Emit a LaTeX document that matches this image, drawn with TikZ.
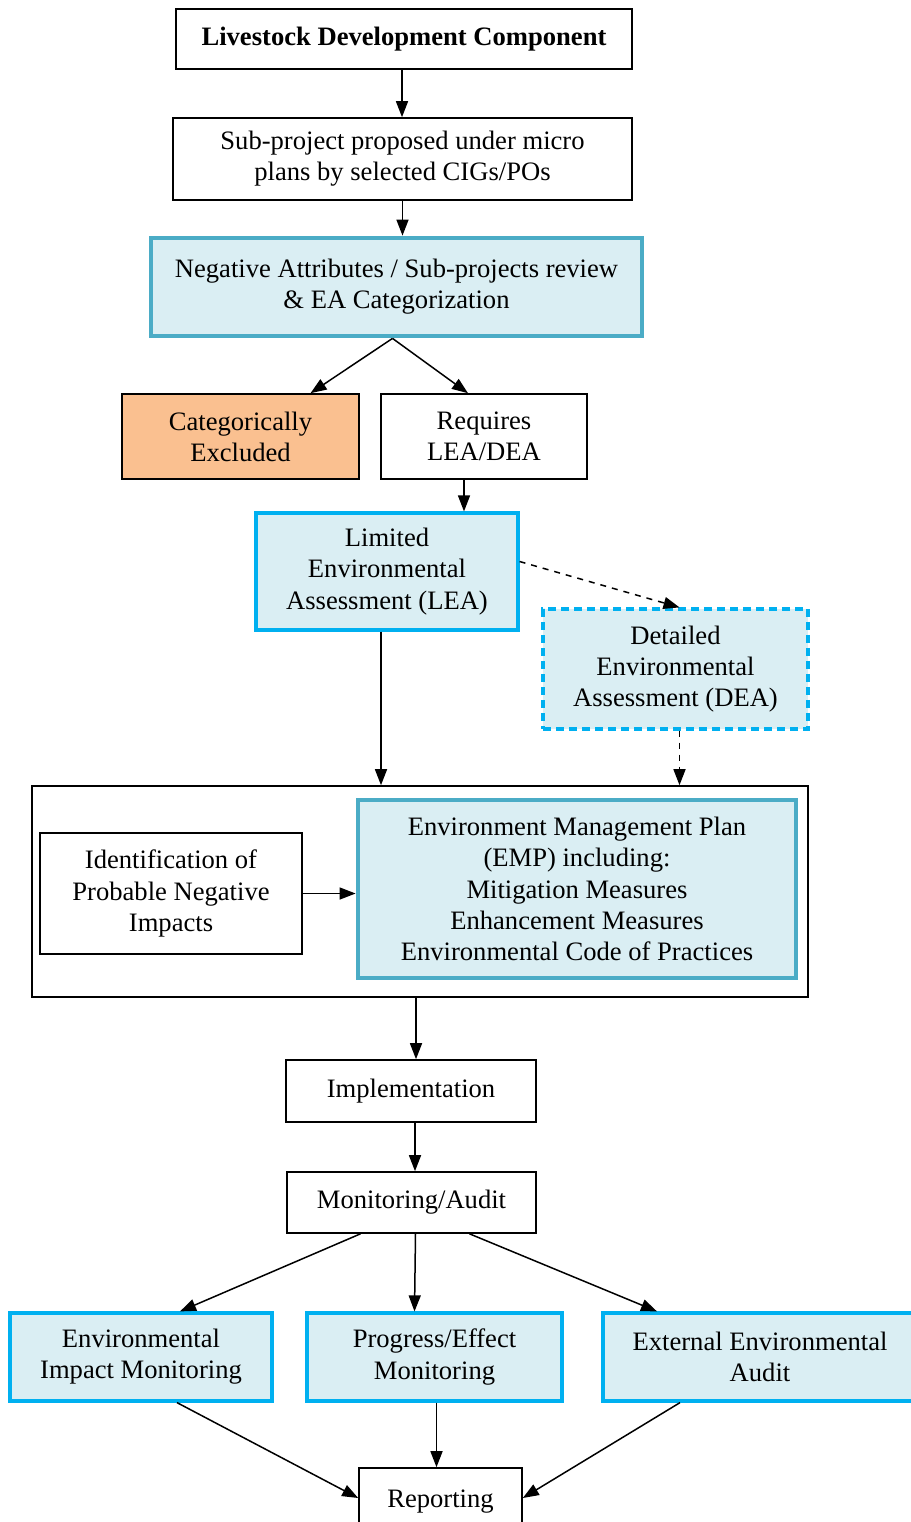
\documentclass[tikz,border=0pt]{standalone}
\usepackage{fontspec}
\setmainfont{Liberation Serif}
\usetikzlibrary{arrows.meta,positioning,calc}
\definecolor{paleblue}{RGB}{218,238,243}
\definecolor{tealline}{RGB}{75,172,198}
\definecolor{cyanline}{RGB}{0,176,240}
\definecolor{peach}{RGB}{250,192,144}
\begin{document}
\begin{tikzpicture}[x=0.5pt, y=-0.5pt,
  box/.style={draw, line width=0.8pt, align=center, font=\fontsize{13.3}{15.6}\selectfont, inner sep=3pt},
  tealbox/.style={box, fill=paleblue, draw=tealline, line width=2.4pt},
  cyanbox/.style={box, fill=paleblue, draw=cyanline, line width=1.6pt},
  arr/.style={-{Triangle[length=8pt,width=6pt]}, line width=0.75pt}
]
\useasboundingbox (0,0) rectangle (911,1522);
% top of the flow
\node[box, minimum width=228pt, minimum height=30pt, font=\fontsize{13.3}{15.6}\selectfont\bfseries] (title) at (404,39) {Livestock Development Component};
\node[box, minimum width=229.5pt, minimum height=41pt] (subproj) at (402.5,159) {Sub-project proposed under micro\\plans by selected CIGs/POs};
\node[tealbox, minimum width=245.5pt, minimum height=49pt] (review) at (396.5,287) {Negative Attributes / Sub-projects review\\\& EA Categorization};
\node[box, fill=peach, minimum width=118.5pt, minimum height=42.5pt] (excl) at (240.5,436.5) {Categorically\\Excluded};
\node[box, minimum width=103pt, minimum height=42.5pt] (req) at (484,436.5) {Requires\\LEA/DEA};
\node[cyanbox, minimum width=131pt, minimum height=58.5pt] (lea) at (387,571.5) {Limited\\Environmental\\Assessment (LEA)};
\node[cyanbox, dashed, dash pattern=on 4pt off 2.5pt, minimum width=132.5pt, minimum height=60pt] (dea) at (675.5,669) {Detailed\\Environmental\\Assessment (DEA)};
% EMP block
\node[box, minimum width=388pt, minimum height=105.5pt] (outer) at (420,891.5) {};
\node[box, minimum width=131pt, minimum height=60.5pt] (ident) at (171,893.5) {Identification of\\Probable Negative\\Impacts};
\node[tealbox, minimum width=219pt, minimum height=89pt] (emp) at (577,889) {Environment Management Plan\\(EMP) including:\\Mitigation Measures\\Enhancement Measures\\Environmental Code of Practices};
% bottom of the flow
\node[box, minimum width=125pt, minimum height=31pt] (impl) at (411,1091) {Implementation};
\node[box, minimum width=124.5pt, minimum height=30.5pt] (monitor) at (411.5,1202.5) {Monitoring/Audit};
\node[cyanbox, minimum width=131pt, minimum height=44pt] (eim) at (141,1357) {Environmental\\Impact Monitoring};
\node[cyanbox, minimum width=127.5pt, minimum height=44pt] (pem) at (434.5,1357) {Progress/Effect\\Monitoring};
\node[cyanbox, minimum width=157pt, minimum height=44pt] (eea) at (760,1357) {External Environmental\\Audit};
\node[box, minimum width=81.5pt, minimum height=34pt, yshift=-6pt] (report) at (440.5,1490) {Reporting};
\draw[arr] ([xshift=-1pt]title.south) -- ([xshift=-1pt]title.south |- subproj.north);
\draw[arr] (subproj.south) -- (subproj.south |- review.north);
\draw[arr] ([xshift=-2pt]review.south) -- ([xshift=35pt]excl.north);
\draw[arr] ([xshift=-2pt]review.south) -- ([xshift=-8pt]req.north);
\draw[arr] ([xshift=-10pt]req.south) -- ([xshift=-10pt]req.south |- lea.north);
\draw[arr, dashed] ([yshift=5pt]lea.east) -- ([xshift=2pt]dea.north);
\draw[arr] ([xshift=-3pt]lea.south) -- ([xshift=-3pt]lea.south |- outer.north);
\draw[arr, dashed] ([xshift=2pt]dea.south) -- ([xshift=2pt]dea.south |- outer.north);
\draw[arr] (ident.east) -- (ident.east -| emp.west);
\draw[arr] ([xshift=-2pt]outer.south) -- ([xshift=-2pt]outer.south |- impl.north);
\draw[arr] ([xshift=2pt]impl.south) -- ([xshift=2pt]impl.south |- monitor.north);
\draw[arr] ([xshift=-25.5pt]monitor.south) -- ([xshift=19.5pt]eim.north);
\draw[arr] ([xshift=2pt]monitor.south) -- ([xshift=-10pt]pem.north);
\draw[arr] ([xshift=29pt]monitor.south) -- ([xshift=-51.5pt]eea.north);
\draw[arr] ([xshift=18pt]eim.south) -- ([yshift=2pt]report.west);
\draw[arr] ([xshift=1pt]pem.south) -- ([xshift=1pt]pem.south |- report.north);
\draw[arr] ([xshift=-40pt]eea.south) -- ([yshift=2pt]report.east);
\end{tikzpicture}
\end{document}
